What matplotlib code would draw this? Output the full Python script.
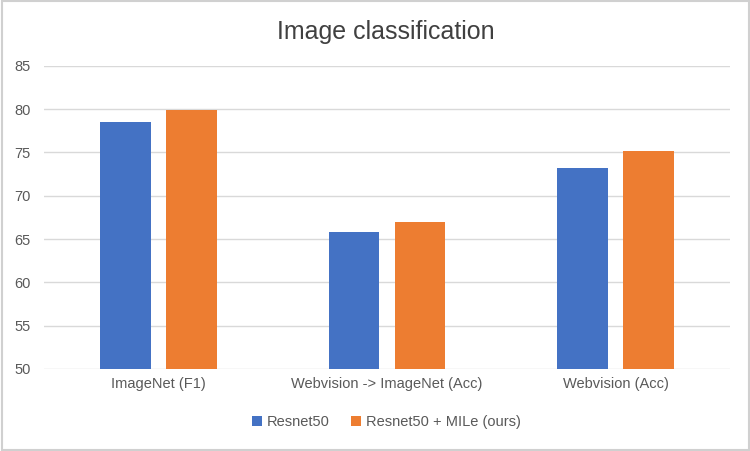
import matplotlib.pyplot as plt
import numpy as np

categories = ['ImageNet (F1)', 'Webvision -> ImageNet (Acc)', 'Webvision (Acc)']
resnet50 = [78.5, 65.8, 73.2]
resnet50_mile = [79.9, 67.0, 75.2]
series_names = ['Resnet50', 'Resnet50 + MILe (ours)']
yticks = [50, 55, 60, 65, 70, 75, 80, 85]

plt.rcParams['font.family'] = ['Liberation Sans', 'DejaVu Sans']

fig = plt.figure(figsize=(7.5, 4.51), dpi=100)
ax = fig.add_axes([0.059, 0.182, 0.914, 0.672])

x = np.arange(len(categories))
w = 0.22
b1 = ax.bar(x - 0.144, resnet50, w, color='#4472c4', zorder=3)
b2 = ax.bar(x + 0.144, resnet50_mile, w, color='#ed7d31', zorder=3)

ax.set_ylim(50, 85)
ax.set_xlim(-0.5, 2.5)
ax.set_yticks(yticks)
ax.set_xticks(x)
ax.set_xticklabels(categories)
ax.grid(axis='y', color='#d9d9d9', linewidth=1, zorder=0)
for s in ax.spines.values():
    s.set_visible(False)
ax.tick_params(length=0, labelsize=10.5, colors='#595959', pad=6)
ax.tick_params(axis='y', pad=10)

fig.text(0.515, 0.93, 'Image classification', ha='center', va='center',
         fontsize=18, color='#404040')

fig.legend([b1, b2], series_names, loc='center', bbox_to_anchor=(0.515, 0.064),
           ncol=2, frameon=False, fontsize=10.5, handlelength=0.7, handleheight=0.7,
           handletextpad=0.3, columnspacing=1.5, labelcolor='#595959')

border = plt.Rectangle((0.002, 0.002), 0.996, 0.996, transform=fig.transFigure,
                       fill=False, edgecolor='#d0d0d0', linewidth=1.5)
fig.patches.append(border)

fig.savefig('out.png', dpi=100)
